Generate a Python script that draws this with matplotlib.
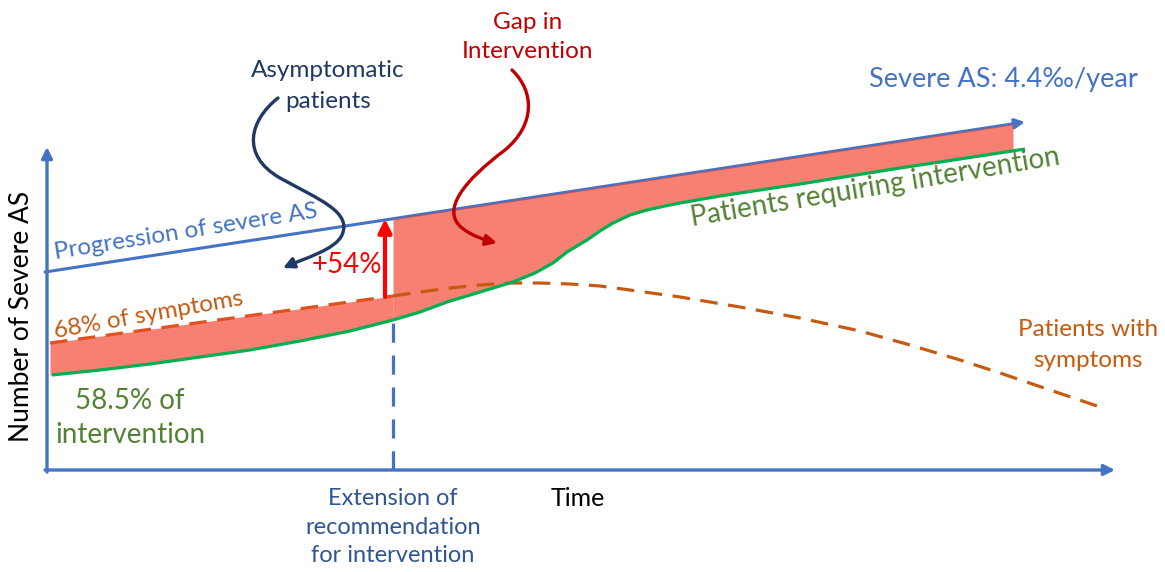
import numpy as np
import matplotlib
matplotlib.use("Agg")
import matplotlib.pyplot as plt
from matplotlib.path import Path
from matplotlib.patches import FancyArrowPatch

plt.rcParams['font.family'] = ['Lato', 'DejaVu Sans']

# ---- data (time units, level units) ----
progression_t = [0, 980]
progression_y = [198, 348]

intervention_t = [7, 55, 105, 155, 205, 255, 305, 348, 375, 402, 435, 468, 490, 508,
                  522, 542, 555, 568, 585, 602, 620, 635, 675, 715, 755, 805, 855,
                  915, 980]
intervention_y = [95, 100, 106, 113, 120, 129, 139, 150, 158, 168, 178, 188, 197, 207,
                  218, 230, 239, 247, 255, 260, 264, 267, 274, 280, 286, 294, 302,
                  311, 321]

symptoms_t = [5, 348, 375, 405, 435, 465, 495, 525, 555, 585, 635, 695, 755, 815,
              865, 915, 955, 1005, 1058]
symptoms_y = [127, 174, 178, 182, 185, 187, 187, 186, 184, 180, 173, 163, 152, 139,
              125, 110, 97, 80, 62]

extension_t = 348
gap_end_t = 968
arrow54_t = 340
arrow54_y = [173, 251]

# curved annotation arrows (cubic bezier control points)
asym_path = [(233, 372), (205, 350), (195, 315), (235, 292),
             (275, 270), (307, 258), (297, 235),
             (290, 220), (260, 212), (238, 202)]
gap_path = [(467, 400), (490, 378), (490, 345), (460, 320),
            (420, 290), (395, 260), (417, 242),
            (427, 234), (440, 230), (452, 227)]

BLUE = '#4472C4'
GREEN = '#00B050'
TXT_GREEN = '#548235'
ORANGE = '#C55A11'
ORANGE_L = '#E2501F'
FILL = (244/255, 74/255, 54/255)
NAVY = '#1F3864'
DRED = '#C00000'

fig = plt.figure(figsize=(11.65, 5.72), dpi=100)
ax = fig.add_axes([0, 0, 1, 1])
ax.set_xlim(-45, 1120)
ax.set_ylim(-102, 470)
ax.axis('off')

# axes arrows
ax.annotate('', xy=(2, 323), xytext=(2, -2),
            arrowprops=dict(arrowstyle='-|>', color=BLUE, lw=2.4,
                            mutation_scale=16, shrinkA=0, shrinkB=0))
ax.annotate('', xy=(1070, 0), xytext=(0, 0),
            arrowprops=dict(arrowstyle='-|>', color=BLUE, lw=2.4,
                            mutation_scale=16, shrinkA=0, shrinkB=0))

# progression line
ax.annotate('', xy=(progression_t[1], progression_y[1]),
            xytext=(progression_t[0], progression_y[0]),
            arrowprops=dict(arrowstyle='-|>', color=BLUE, lw=2.2,
                            mutation_scale=15, shrinkA=0, shrinkB=0), zorder=2)

# fills
tl = np.linspace(symptoms_t[0], extension_t, 200)
ax.fill_between(tl, np.interp(tl, symptoms_t, symptoms_y),
                np.interp(tl, intervention_t, intervention_y),
                color=FILL, alpha=0.7, lw=0, zorder=3)
tr = np.linspace(extension_t, gap_end_t, 300)
ax.fill_between(tr, np.interp(tr, progression_t, progression_y),
                np.interp(tr, intervention_t, intervention_y),
                color=FILL, alpha=0.7, lw=0, zorder=3)

# vertical extension dashed line
ax.plot([extension_t, extension_t], [0, np.interp(extension_t, intervention_t, intervention_y)],
        color=BLUE, lw=2.3, ls=(0, (6, 4)), zorder=2)

# symptoms dashed curve
st = np.array(symptoms_t)
sy = np.array(symptoms_y)
left = st <= extension_t
ax.plot(st[left], sy[left], color=ORANGE_L, lw=2.3, ls=(0, (5.5, 3.3)), zorder=4)
ax.plot(st[st >= extension_t], sy[st >= extension_t], color=ORANGE, lw=2.3,
        ls=(0, (5.5, 3.3)), zorder=4)

# intervention curve
ax.plot(intervention_t, intervention_y, color=GREEN, lw=2.3, zorder=4,
        solid_capstyle='butt', solid_joinstyle='round')

# +54% arrow
ax.annotate('', xy=(arrow54_t, arrow54_y[1]), xytext=(arrow54_t, arrow54_y[0]),
            arrowprops=dict(arrowstyle='-|>', color='#FF0000', lw=3,
                            mutation_scale=20, shrinkA=0, shrinkB=0), zorder=5)

def bez(points):
    codes = [Path.MOVETO] + [Path.CURVE4] * (len(points) - 1)
    return Path(points, codes)

ax.add_patch(FancyArrowPatch(path=bez(asym_path), arrowstyle='-|>',
                             mutation_scale=16, color=NAVY, lw=2.4, zorder=6))
ax.add_patch(FancyArrowPatch(path=bez(gap_path), arrowstyle='-|>',
                             mutation_scale=16, color=DRED, lw=2.4, zorder=6))

# texts
ax.text(-23, 154, 'Number of Severe AS', rotation=90, ha='center', va='center',
        fontsize=19, color='black')
ax.text(533, -28, 'Time', ha='center', va='center', fontsize=18, color='black')
ax.text(348, -57, 'Extension of\nrecommendation\nfor intervention', ha='center',
        va='center', fontsize=17, color='#2F5597', linespacing=1.47)
ax.text(141, 238, 'Progression of severe AS', rotation=9, ha='center', va='center',
        fontsize=17.5, color=BLUE, rotation_mode='anchor')
ax.text(104, 155, '68% of symptoms', rotation=10, ha='center', va='center',
        fontsize=17.5, color=ORANGE, rotation_mode='anchor')
ax.text(85, 52, '58.5% of\nintervention', ha='center', va='center',
        fontsize=20, color=TXT_GREEN, linespacing=1.37)
ax.text(302, 205, '+54%', ha='center', va='center', fontsize=20, color='#FF0000')
ax.text(283, 384, 'Asymptomatic\npatients', ha='center', va='center',
        fontsize=17.5, color=NAVY, linespacing=1.6)
ax.text(483, 433, 'Gap in\nIntervention', ha='center', va='center',
        fontsize=17.5, color=DRED, linespacing=1.5)
ax.text(1003 - 45, 390, 'Severe AS: 4.4\u2030/year', ha='center', va='center',
        fontsize=19.5, color=BLUE)
ax.text(830, 283, 'Patients requiring intervention', rotation=9.5, ha='center',
        va='center', fontsize=20, color=TXT_GREEN, rotation_mode='anchor')
ax.text(1043, 125, 'Patients with\nsymptoms', ha='center', va='center',
        fontsize=17.5, color=ORANGE, linespacing=1.6)

fig.savefig('out.png', dpi=100)
